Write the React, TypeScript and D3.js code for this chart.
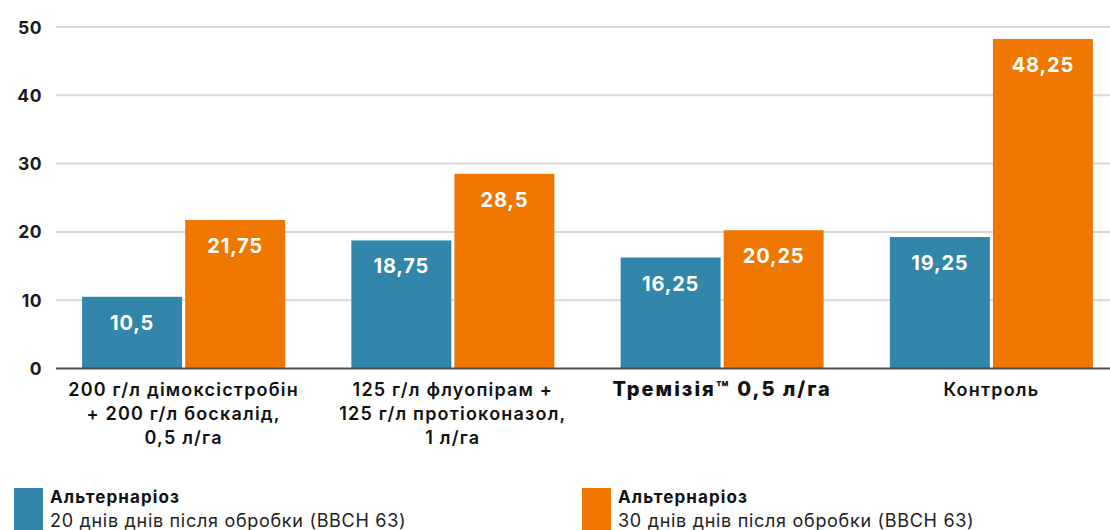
import React from "react";
import * as d3 from "d3";

const categories = [
  ["200 г/л дімоксістробін", "+ 200 г/л боскалід,", "0,5 л/га"],
  ["125 г/л флуопірам +", "125 г/л протіоконазол,", "1 л/га"],
  ["Тремізія™ 0,5 л/га"],
  ["Контроль"],
];
const highlight = [false, false, true, false];
const series20 = [10.5, 18.75, 16.25, 19.25];
const series30 = [21.75, 28.5, 20.25, 48.25];
const yTicks = [0, 10, 20, 30, 40, 50];
const legendTitles = ["Альтернаріоз", "Альтернаріоз"];
const legendSubs = ["20 днів днів після обробки (BBCH 63)", "30 днів днів після обробки (BBCH 63)"];
const colors = ["#3186a9", "#ef7700"];

const fmt = (v: number) => String(v).replace(".", ",");
const FONT = "Inter, 'Noto Sans', sans-serif";

export default function App() {
  const W = 1110, H = 530;
  const y = d3.scaleLinear().domain([0, 50]).range([368.5, 27]);
  const x0 = d3.scaleBand<number>().domain(d3.range(4)).range([49, 1126]).paddingInner(0.246).paddingOuter(0.123);
  const x1 = d3.scaleBand<number>().domain([0, 1]).range([0, x0.bandwidth()]).paddingInner(0.03);
  const series = [series20, series30];
  return (
    <svg width={W} height={H} style={{ position: "absolute", left: 0, top: 0, fontFamily: FONT }}>
      <rect width={W} height={H} fill="#fff" />
      {yTicks.filter(t => t > 0).map(t => (
        <line key={t} x1={56} x2={W} y1={y(t)} y2={y(t)} stroke="#d9d9d9" strokeWidth={2} />
      ))}
      {yTicks.map(t => (
        <text key={"t" + t} x={42} y={y(t)} textAnchor="end" dominantBaseline="central" fontSize={17.5} fontWeight={700} letterSpacing={0.5} fill="#1a1a1a">{t}</text>
      ))}
      {categories.map((_, i) =>
        series.map((s, j) => {
          const bx = (x0(i) as number) + (x1(j) as number);
          const top = y(s[i]);
          return (
            <g key={i + "-" + j}>
              <rect x={bx} y={top} width={x1.bandwidth()} height={y(0) - top} fill={colors[j]} />
              <text x={bx + x1.bandwidth() / 2} y={top + 26} textAnchor="middle" dominantBaseline="central" fontSize={20} fontWeight={700} letterSpacing={0.8} fill="#fff">{fmt(s[i])}</text>
            </g>
          );
        })
      )}
      <line x1={56} x2={W} y1={y(0)} y2={y(0)} stroke="#4d4d4d" strokeWidth={2} />
      {categories.map((lines, i) => {
        const cx = (x0(i) as number) + x0.bandwidth() / 2;
        return (
          <text key={"c" + i} textAnchor="middle" fill="#111" fontSize={highlight[i] ? 20 : 18} fontWeight={highlight[i] ? 800 : 600} letterSpacing={highlight[i] ? 2 : 1.2}>
            {lines.map((l, k) => (
              <tspan key={k} x={cx} y={389 + k * 24} dominantBaseline="central">{l}</tspan>
            ))}
          </text>
        );
      })}
      {[0, 1].map(j => {
        const lx = j === 0 ? 14 : 582;
        return (
          <g key={"l" + j}>
            <rect x={lx} y={488} width={29} height={42} fill={colors[j]} />
            <text x={lx + 36} y={497} dominantBaseline="central" fontSize={17} fontWeight={700} letterSpacing={1.1} fill="#111">{legendTitles[j]}</text>
            <text x={lx + 36} y={520} dominantBaseline="central" fontSize={18} fontWeight={400} letterSpacing={0.7} fill="#222">{legendSubs[j]}</text>
          </g>
        );
      })}
    </svg>
  );
}
